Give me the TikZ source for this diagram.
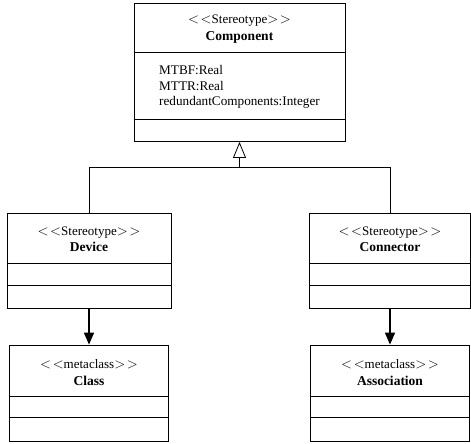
\documentclass[tikz,border=0pt]{standalone}
\usepackage{fontspec}
\setmainfont{Liberation Serif}
\usetikzlibrary{arrows.meta}
\begin{document}
\begin{tikzpicture}[x=1pt,y=-1pt,
  classbox/.style={draw, line width=0.8pt, inner sep=0pt},
  lbl/.style={font=\fontsize{13}{15}\selectfont, inner sep=0pt},
  cname/.style={font=\bfseries\fontsize{13.5}{15}\selectfont, inner sep=0pt},
  attrs/.style={font=\fontsize{13.2}{15.8}\selectfont, align=left, inner sep=0pt, anchor=north west},
  gen/.style={line width=0.8pt, -{Triangle[open, width=13pt, length=16pt]}},
  assoc/.style={line width=1.6pt, -{Triangle[width=10pt, length=12pt]}}]
\useasboundingbox (0,0) rectangle (471,444);

% class boxes
\node[classbox, minimum width=211pt, minimum height=138.5pt] (comp) at (239.5,72.25) {};
\node[classbox, minimum width=164pt, minimum height=95pt] (dev) at (89,260.5) {};
\node[classbox, minimum width=161pt, minimum height=95pt] (conn) at (390,260.5) {};
\node[classbox, minimum width=159pt, minimum height=96pt] (cls) at (89,393) {};
\node[classbox, minimum width=159pt, minimum height=96pt] (asc) at (390,393) {};

% compartment separators
\foreach \n/\a/\b in {comp/50/117, dev/51/73, conn/51/73, cls/52/73, asc/52/73} {
  \draw[line width=0.8pt] ([yshift=-\a pt]\n.north west) -- ([yshift=-\a pt]\n.north east);
  \draw[line width=0.8pt] ([yshift=-\b pt]\n.north west) -- ([yshift=-\b pt]\n.north east);
}

% headers
\newcommand\stereo[1]{{\fontsize{15}{15}\selectfont$<\mkern2mu<$}#1{\fontsize{15}{15}\selectfont$>\mkern2mu>$}}
\node[lbl] (compst) at ([yshift=-18pt]comp.north) {\stereo{Stereotype}};
\node[cname] (compnm) at ([yshift=-35pt]comp.north) {Component};
\node[lbl] (devst) at ([yshift=-20pt]dev.north) {\stereo{Stereotype}};
\node[cname] (devnm) at ([yshift=-34pt]dev.north) {Device};
\node[lbl] (connst) at ([yshift=-20pt]conn.north) {\stereo{Stereotype}};
\node[cname] (connnm) at ([yshift=-34pt]conn.north) {Connector};
\node[lbl] (clsst) at ([yshift=-20pt]cls.north) {\stereo{metaclass}};
\node[cname] (clsnm) at ([yshift=-36pt]cls.north) {Class};
\node[lbl] (ascst) at ([yshift=-20pt]asc.north) {\stereo{metaclass}};
\node[cname] (ascnm) at ([yshift=-36pt]asc.north) {Association};

% attributes
\node[attrs] (compat) at (159,65) {MTBF:Real\\MTTR:Real\\redundantComponents:Integer};

% generalization
\coordinate (j) at (comp.south |- 0,167);
\draw[line width=0.8pt] (dev.north) -- (dev.north |- j) -- (conn.north |- j) -- (conn.north);
\draw[gen] (j) -- (comp.south);

% associations
\draw[assoc] (dev.south) -- (cls.north);
\draw[assoc] (conn.south) -- (asc.north);
\end{tikzpicture}
\end{document}
